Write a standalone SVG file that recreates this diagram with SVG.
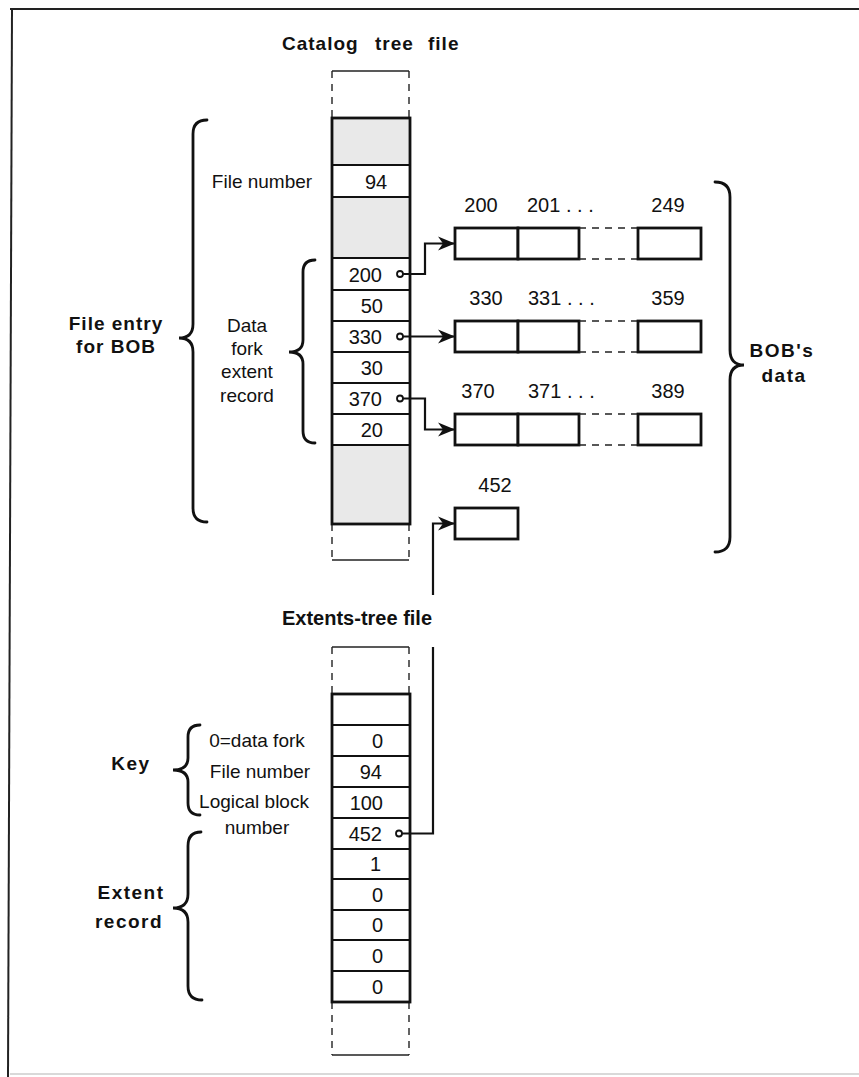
<svg xmlns="http://www.w3.org/2000/svg" width="859" height="1077" viewBox="0 0 859 1077">
<defs>
<style>
text{font-family:"Liberation Sans",Arial,sans-serif;fill:#111}
.n{font-size:19px}
.d{font-size:20px}
.c{text-anchor:middle}
.e{text-anchor:end}
.b{font-size:19px;font-weight:bold;letter-spacing:1px}
.col{fill:none;stroke:#111;stroke-width:2.8}
.row{stroke:#111;stroke-width:2.2}
.sh{fill:#e9e9e9}
.dash{fill:none;stroke:#222;stroke-width:1.4;stroke-dasharray:7,6}
.thin{fill:none;stroke:#222;stroke-width:1.4}
.box{fill:#fff;stroke:#111;stroke-width:2.8}
.brace{fill:none;stroke:#111;stroke-width:2.8;stroke-linecap:round}
.conn{fill:none;stroke:#111;stroke-width:2.2}
.dot{fill:#fff;stroke:#111;stroke-width:1.8}
</style>
<marker id="ah" markerUnits="userSpaceOnUse" markerWidth="18" markerHeight="16" refX="17" refY="8" orient="auto">
<path d="M0,1 L17,8 L0,15 L5,8 Z" fill="#111"/>
</marker>
</defs>
<rect width="859" height="1077" fill="#fff"/>
<g id="frame">
<line x1="10" y1="9" x2="859" y2="9" stroke="#222" stroke-width="2"/>
<line x1="12" y1="9" x2="8" y2="1077" stroke="#222" stroke-width="2"/>
<line x1="10" y1="1074" x2="859" y2="1074" stroke="#ccc" stroke-width="1.5"/>
</g>

<g id="catalog-title">
<text class="b" y="50"><tspan x="282">Catalog</tspan><tspan x="375">tree</tspan><tspan x="428">file</tspan></text>
</g>

<g id="catalog-file">
<line x1="332" y1="71" x2="409" y2="71" class="thin"/>
<path class="dash" d="M332,71 V118 M409,71 V118 M332,524 V560 M409,524 V560"/>
<line x1="332" y1="560" x2="409" y2="560" class="thin"/>
<rect class="sh" x="332" y="118" width="78" height="47"/>
<rect class="sh" x="332" y="197" width="78" height="61"/>
<rect class="sh" x="332" y="445" width="78" height="79"/>
<g class="row">
<line x1="332" y1="165" x2="410" y2="165"/>
<line x1="332" y1="197" x2="410" y2="197"/>
<line x1="332" y1="258" x2="410" y2="258"/>
<line x1="332" y1="290" x2="410" y2="290"/>
<line x1="332" y1="321" x2="410" y2="321"/>
<line x1="332" y1="352" x2="410" y2="352"/>
<line x1="332" y1="383" x2="410" y2="383"/>
<line x1="332" y1="414" x2="410" y2="414"/>
<line x1="332" y1="445" x2="410" y2="445"/>
</g>
<rect class="col" x="332" y="118" width="78" height="406"/>
<text class="d c" x="376" y="189">94</text>
<text class="d e" x="382" y="282">200</text>
<text class="d e" x="383" y="313">50</text>
<text class="d e" x="382" y="344">330</text>
<text class="d e" x="383" y="375">30</text>
<text class="d e" x="382" y="406">370</text>
<text class="d e" x="383" y="437">20</text>
</g>

<g id="catalog-labels">
<text class="n c" x="262" y="188">File number</text>
<text class="n c" x="247"><tspan x="247" y="332">Data</tspan><tspan x="247" y="355">fork</tspan><tspan x="247" y="378">extent</tspan><tspan x="247" y="402">record</tspan></text>
<path class="brace" d="M315,260 Q303,260 303,272 V340 Q303,352 289,352 Q303,352 303,364 V431 Q303,443 315,443"/>
<text class="b c" x="116"><tspan x="116" y="330">File entry</tspan><tspan x="116" y="353">for BOB</tspan></text>
<path class="brace" d="M207,120 Q193,120 193,134 V324 Q193,338 179,338 Q193,338 193,352 V508 Q193,522 207,522"/>
</g>

<g id="data-row-200">
<text class="d c" x="481" y="212">200</text>
<text class="d" x="527" y="212">201 . . .</text>
<text class="d c" x="668" y="212">249</text>
<rect class="box" x="455" y="228" width="63" height="31"/>
<rect class="box" x="518" y="228" width="61" height="31"/>
<path class="dash" d="M579,228 H638 M579,259 H638"/>
<rect class="box" x="638" y="228" width="63" height="31"/>
</g>
<g id="data-row-330">
<text class="d c" x="486" y="305">330</text>
<text class="d" x="528" y="305">331 . . .</text>
<text class="d c" x="668" y="305">359</text>
<rect class="box" x="455" y="321" width="63" height="31"/>
<rect class="box" x="518" y="321" width="61" height="31"/>
<path class="dash" d="M579,321 H638 M579,352 H638"/>
<rect class="box" x="638" y="321" width="63" height="31"/>
</g>
<g id="data-row-370">
<text class="d c" x="478" y="398">370</text>
<text class="d" x="528" y="398">371 . . .</text>
<text class="d c" x="668" y="398">389</text>
<rect class="box" x="455" y="414" width="63" height="31"/>
<rect class="box" x="518" y="414" width="61" height="31"/>
<path class="dash" d="M579,414 H638 M579,445 H638"/>
<rect class="box" x="638" y="414" width="63" height="31"/>
</g>
<g id="block-452">
<text class="d c" x="495" y="492">452</text>
<rect class="box" x="455" y="508" width="63" height="31"/>
</g>

<g id="bobs-data">
<path class="brace" d="M715,182 Q730,182 730,197 V350 Q730,365 744,365 Q730,365 730,380 V537 Q730,552 715,552"/>
<text class="b c" style="letter-spacing:1.5px"><tspan x="782" y="357">BOB's</tspan><tspan x="784" y="382">data</tspan></text>
</g>

<g id="extents-title">
<text class="b" x="282" y="625" style="font-size:20px;letter-spacing:0">Extents-tree file</text>
</g>

<g id="extents-file">
<line x1="332" y1="647" x2="409" y2="647" class="thin"/>
<path class="dash" d="M332,647 V694 M409,647 V694 M332,1002 V1055 M409,1002 V1055"/>
<line x1="332" y1="1055" x2="409" y2="1055" class="thin"/>
<g class="row">
<line x1="332" y1="725" x2="410" y2="725"/>
<line x1="332" y1="756" x2="410" y2="756"/>
<line x1="332" y1="787" x2="410" y2="787"/>
<line x1="332" y1="818" x2="410" y2="818"/>
<line x1="332" y1="849" x2="410" y2="849"/>
<line x1="332" y1="879" x2="410" y2="879"/>
<line x1="332" y1="910" x2="410" y2="910"/>
<line x1="332" y1="940" x2="410" y2="940"/>
<line x1="332" y1="971" x2="410" y2="971"/>
</g>
<rect class="col" x="332" y="694" width="78" height="308"/>
<text class="d e" x="383" y="748">0</text>
<text class="d e" x="382" y="779">94</text>
<text class="d e" x="383" y="810">100</text>
<text class="d e" x="382" y="841">452</text>
<text class="d e" x="381" y="871">1</text>
<text class="d e" x="383" y="902">0</text>
<text class="d e" x="383" y="932">0</text>
<text class="d e" x="383" y="963">0</text>
<text class="d e" x="383" y="994">0</text>
</g>

<g id="extents-labels">
<text class="n c" x="257" y="747">0=data fork</text>
<text class="n c" x="260" y="778">File number</text>
<text class="n c" x="254" y="808">Logical block</text>
<text class="n c" x="257" y="834">number</text>
<path class="brace" d="M200,725 Q188,725 188,737 V758 Q188,770 173,770 Q188,770 188,782 V803 Q188,815 200,815"/>
<text class="b c" x="131" y="770" style="letter-spacing:1.5px">Key</text>
<path class="brace" d="M201,832 Q188,832 188,846 V894 Q188,908 173,908 Q188,908 188,922 V986 Q188,1000 202,1000"/>
<text class="b c" style="letter-spacing:1.5px"><tspan x="131" y="899">Extent</tspan><tspan x="129" y="928">record</tspan></text>
</g>

<g id="connectors">
<circle class="dot" cx="400" cy="274" r="3"/>
<path class="conn" d="M403,274 H425 V243.5 H455" marker-end="url(#ah)"/>
<circle class="dot" cx="400" cy="336.5" r="3"/>
<path class="conn" d="M403,336.5 H455" marker-end="url(#ah)"/>
<circle class="dot" cx="400" cy="398.5" r="3"/>
<path class="conn" d="M403,398.5 H425 V429.5 H455" marker-end="url(#ah)"/>
<circle class="dot" cx="399" cy="833.5" r="3"/>
<path class="conn" d="M402,833.5 H433 V647"/>
<path class="conn" d="M433,595 V523.5 H455" marker-end="url(#ah)"/>
</g>
</svg>
